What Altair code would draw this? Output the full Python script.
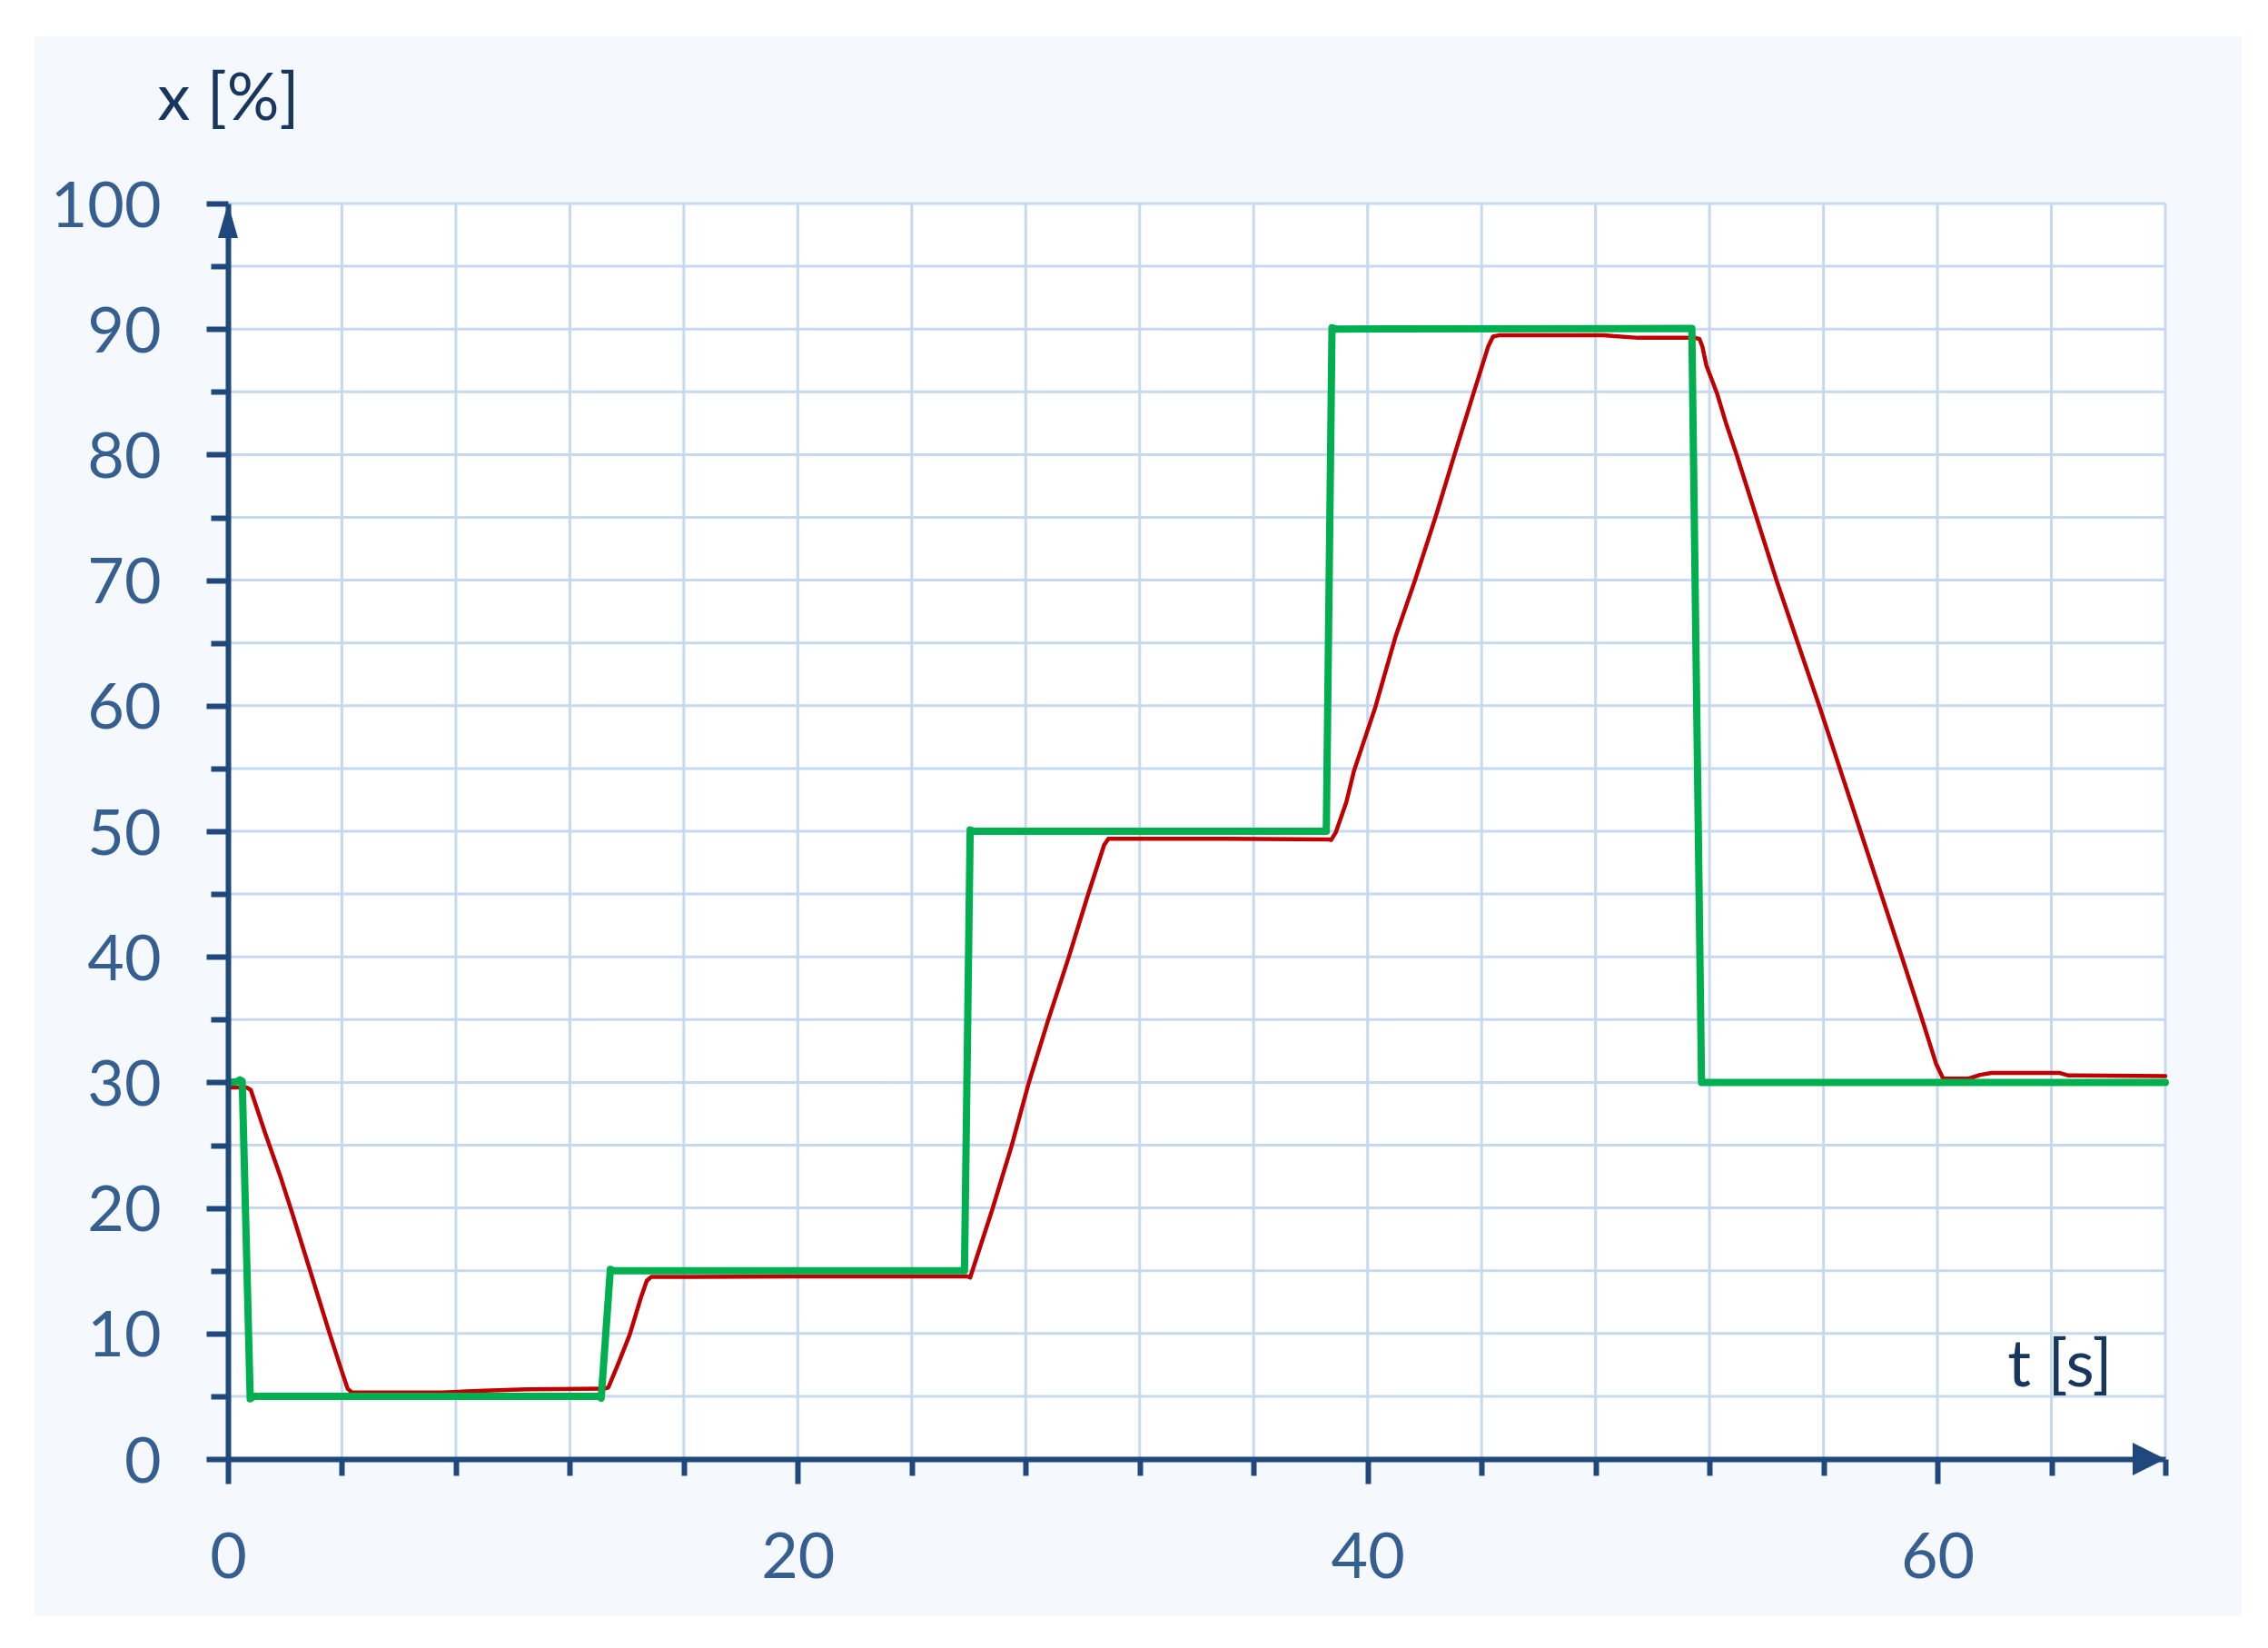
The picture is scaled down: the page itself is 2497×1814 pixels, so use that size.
import altair as alt
import pandas as pd

# ---------------- data ----------------
green_t = [0, 0.3, 0.42, 0.5, 0.78, 0.9, 13.05, 13.1, 13.42, 13.55, 25.85, 26.05, 26.2,
           38.55, 38.75, 38.9, 51.38, 51.72, 68]
green_v = [30, 30.05, 30.2, 30.1, 4.8, 5.0, 5.0, 4.85, 15.1, 15.0, 15.0, 50.1, 50.0,
           50.0, 90.1, 90.0, 90.05, 30.0, 30.0]

red_t = [0, 0.65, 0.8, 1.3, 1.87, 2.28, 2.76, 3.17, 3.58, 3.98, 4.2, 4.35, 7.5, 9.0, 10.5,
         13.2, 13.35, 13.7, 14.1, 14.5, 14.7, 14.85, 20.0, 25.95, 26.05, 26.83, 27.5, 28.1,
         28.78, 29.5, 30.18, 30.75, 30.9, 35.0, 38.65, 38.72, 38.88, 39.25, 39.52, 39.83,
         40.26, 40.98, 41.65, 42.38, 43.05, 43.72, 44.23, 44.4, 44.6, 48.3, 49.5, 51.5,
         51.65, 51.75, 51.89, 52.26, 52.58, 52.95, 53.65, 54.35, 55.1, 55.85, 57.3,
         58.75, 59.45, 59.95, 60.2, 61.1, 61.5, 61.9, 64.3, 64.6, 68]
red_v = [29.6, 29.6, 29.4, 26.0, 22.3, 19.4, 15.9, 12.9, 9.9, 7.1, 5.6, 5.3, 5.3, 5.45, 5.55,
         5.6, 5.7, 7.6, 9.9, 12.9, 14.2, 14.5, 14.55, 14.55, 14.45, 19.9, 24.9, 29.9,
         34.9, 39.9, 44.9, 48.9, 49.4, 49.4, 49.35, 49.3, 49.9, 52.3, 54.8, 56.9,
         59.8, 65.5, 69.9, 75.0, 80.0, 84.9, 88.6, 89.4, 89.5, 89.5, 89.3, 89.3,
         89.2, 88.6, 87.1, 84.9, 82.5, 80.0, 75.0, 70.0, 65.0, 60.0, 50.0,
         40.0, 35.1, 31.5, 30.3, 30.3, 30.6, 30.75, 30.75, 30.55, 30.5]

x_ticks = [0, 4, 8, 12, 16, 20, 24, 28, 32, 36, 40, 44, 48, 52, 56, 60, 64, 68]
y_ticks = [0, 5, 10, 15, 20, 25, 30, 35, 40, 45, 50, 55, 60, 65, 70, 75, 80, 85, 90, 95, 100]
x_title = "t [s]"
y_title = "x [%]"

# ---------------- styling ----------------
W, H = 2133, 1382
AXIS_COL = "#1F497D"
LABEL_COL = "#365F91"
TITLE_COL = "#17375E"
GRID_COL = "#C6D9F1"
PANEL_COL = "#F5F8FC"
FONT = "Lato"

red = pd.DataFrame({"t": red_t, "v": red_v})
green = pd.DataFrame({"t": green_t, "v": green_v})
xg = pd.DataFrame({"t": x_ticks})
yg = pd.DataFrame({"v": y_ticks})
one = pd.DataFrame({"a": [0]})
x_end = pd.DataFrame({"t": [x_ticks[-1]], "v": [y_ticks[0]]})
y_end = pd.DataFrame({"t": [x_ticks[0]], "v": [y_ticks[-1]]})

xscale = alt.Scale(domain=[x_ticks[0], x_ticks[-1]], nice=False, zero=False)
yscale = alt.Scale(domain=[y_ticks[0], y_ticks[-1]], nice=False, zero=False)

common_axis = dict(
    grid=False, zindex=1,
    domainColor=AXIS_COL, domainWidth=6,
    tickColor=AXIS_COL, tickWidth=6,
    labelColor=LABEL_COL, labelFont=FONT, labelFontSize=70,
    labelOverlap=False, labelFlush=False,
    titleColor=TITLE_COL, titleFont=FONT, titleFontSize=72, titleFontWeight="normal",
    titleAngle=0, titleBaseline="alphabetic",
)

xaxis = alt.Axis(
    values=x_ticks, title=x_title,
    labelExpr="datum.value % 20 === 0 ? datum.label : ''",
    tickSize={"condition": {"test": "datum.value % 20 === 0", "value": 27}, "value": 18},
    labelPadding=48, labelBaseline="top", labelAlign="center",
    titleX=2074, titleY=-81, titleAlign="right",
    **common_axis,
)
yaxis = alt.Axis(
    values=y_ticks, title=y_title,
    labelExpr="datum.value % 10 === 0 ? datum.label : ''",
    tickSize={"condition": {"test": "datum.value % 10 === 0", "value": 24}, "value": 19},
    labelPadding=50, labelOffset=4, labelAlign="right", labelBaseline="middle",
    titleX=0, titleY=-93, titleAlign="center",
    **common_axis,
)

xenc = alt.X("t:Q", scale=xscale, axis=xaxis)
yenc = alt.Y("v:Q", scale=yscale, axis=yaxis)

panel = alt.Chart(one).mark_rect(color=PANEL_COL).encode(
    x=alt.value(-213), x2=alt.value(2217), y=alt.value(-184), y2=alt.value(1555)
)
plotbg = alt.Chart(one).mark_rect(color="white").encode(
    x=alt.value(0), x2=alt.value("width"), y=alt.value(0), y2=alt.value("height")
)
vgrid = alt.Chart(xg).mark_rule(color=GRID_COL, strokeWidth=3).encode(x=xenc)
hgrid = alt.Chart(yg).mark_rule(color=GRID_COL, strokeWidth=3).encode(y=yenc)

red_line = alt.Chart(red).mark_line(
    color="#C00000", strokeWidth=4.5, strokeCap="round", strokeJoin="round"
).encode(x=xenc, y=yenc, order="t:Q")
green_line = alt.Chart(green).mark_line(
    color="#00B050", strokeWidth=8, strokeCap="round", strokeJoin="round"
).encode(x=xenc, y=yenc, order="t:Q")

arrow_x = alt.Chart(x_end).mark_point(
    shape="M0,0L-1,-0.5L-1,0.5Z", filled=True, size=5184, color=AXIS_COL,
    opacity=1, strokeWidth=0
).encode(x=xenc, y=yenc)
arrow_y = alt.Chart(y_end).mark_point(
    shape="M0,0L0.29,1L-0.29,1Z", filled=True, size=5776, color=AXIS_COL,
    opacity=1, strokeWidth=0
).encode(x=xenc, y=yenc)

chart = alt.layer(
    panel, plotbg, vgrid, hgrid, red_line, green_line, arrow_x, arrow_y
).properties(
    width=W, height=H,
    autosize=alt.AutoSizeParams(type="none"),
    padding={"left": 243, "top": 216, "right": 95, "bottom": 190},
    background="white",
).configure_view(strokeWidth=0)

chart.save("out.html", embed_options={"renderer": "svg", "actions": False})
